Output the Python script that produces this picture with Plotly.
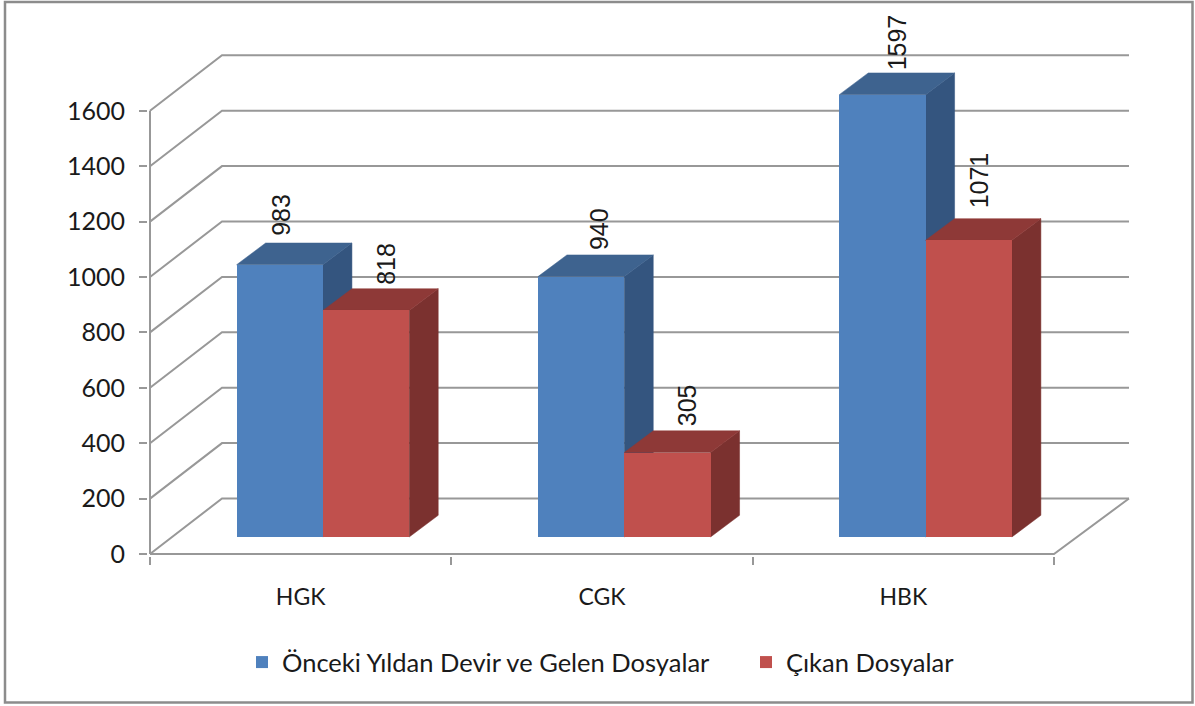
import plotly.graph_objects as go

categories = ["HGK", "CGK", "HBK"]
series_names = ["Önceki Yıldan Devir ve Gelen Dosyalar", "Çıkan Dosyalar"]
gelen_values = [983, 940, 1597]
cikan_values = [818, 305, 1071]
y_ticks = [0, 200, 400, 600, 800, 1000, 1200, 1400, 1600]

# label nudges in px (hand placed in the original)
gelen_label_shift = [(2, 5), (19, 3), (15, 1)]
cikan_label_shift = [(21, 2), (20, 3), (11, 8)]

W, H = 1195, 706
L, R, T, B = 148, 65, 40, 150
UX = 301.33              # px per category
UY = 0.277               # px per value unit
PAD = 2
GAP = 0.2875             # left gap inside a category, category units
BAR_W = 0.2864
BASE = 17 / UY           # bars sit forward-floor offset
DX, DY = 29 / UX, 21.7 / UY          # bar depth
WX, WY = 72 / UX, 55.5 / UY          # wall depth
END = 979 / UX
GRID = "#989898"
TEXT = "#1a1a1a"
FONT = "Lato"

series = [
    (series_names[0], gelen_values, 0, "#4F81BD", "#34557F", "#3E638F", gelen_label_shift, "legend"),
    (series_names[1], cikan_values, 1, "#C0504D", "#7B312F", "#8E3937", cikan_label_shift, "legend2"),
]

fig = go.Figure()

# wall and floor lines
gx, gy = [], []
for v in y_ticks:
    gx += [0, WX, END, None]
    gy += [v, v + WY, v + WY, None]
fig.add_trace(go.Scatter(x=gx, y=gy, mode="lines", line=dict(color=GRID, width=2),
                         showlegend=False, hoverinfo="skip", zorder=-2))
fig.add_trace(go.Scatter(x=[0, 0, None, 0, 3, END], y=[y_ticks[-1], 0, None, 0, 0, WY],
                         mode="lines", line=dict(color=GRID, width=2),
                         showlegend=False, hoverinfo="skip", zorder=-2))

annotations = []
for name, vals, idx, front, side, top, shifts, legend_id in series:
    lefts = [i + GAP + idx * BAR_W for i in range(len(categories))]
    sx, sy, tx, ty = [], [], [], []
    for x0, v in zip(lefts, vals):
        x1 = x0 + BAR_W
        h = BASE + v
        sx += [x1, x1 + DX, x1 + DX, x1, x1, None]
        sy += [BASE, BASE + DY, h + DY, h, BASE, None]
        tx += [x0, x0 + DX, x1 + DX, x1, x0, None]
        ty += [h, h + DY, h + DY, h, h, None]
    z = idx * 2
    fig.add_trace(go.Scatter(x=sx, y=sy, mode="lines", fill="toself", fillcolor=side,
                             line=dict(color=side, width=0.5), showlegend=False,
                             hoverinfo="skip", zorder=z))
    fig.add_trace(go.Scatter(x=tx, y=ty, mode="lines", fill="toself", fillcolor=top,
                             line=dict(color=top, width=0.5), showlegend=False,
                             hoverinfo="skip", zorder=z))
    fig.add_trace(go.Bar(x=[x + BAR_W / 2 for x in lefts], y=vals, base=BASE, width=BAR_W,
                         name=name, legend=legend_id,
                         marker=dict(color=front, line=dict(width=0)), zorder=z + 1))
    for x0, v, (sx_px, sy_px) in zip(lefts, vals, shifts):
        annotations.append(dict(x=x0 + BAR_W / 2, y=BASE + DY + v, text=str(v), textangle=-90,
                                showarrow=False, xanchor="center", yanchor="bottom",
                                xshift=sx_px - 1, yshift=sy_px,
                                font=dict(family="Liberation Sans", size=25, color=TEXT)))

pw, ph = W - L - R, H - T - B

def px(x):
    return (x - L) / pw

def py(y):
    return (H - B - y) / ph

legend_common = dict(orientation="h", yanchor="top", y=py(639), xanchor="left",
                     font=dict(family=FONT, size=25.5, color=TEXT), itemclick=False,
                     itemdoubleclick=False, bgcolor="rgba(0,0,0,0)")

fig.update_layout(
    width=W, height=H, autosize=False,
    margin=dict(l=L, r=R, t=T, b=B, autoexpand=False),
    paper_bgcolor="white", plot_bgcolor="white",
    barmode="overlay", bargap=0,
    xaxis=dict(range=[-PAD / UX, (pw - PAD) / UX], tickmode="array",
               tickvals=[0.5, 1.5, 2.5], ticktext=categories, ticks="", ticklabelstandoff=25,
               showgrid=False, zeroline=False, showline=False,
               tickfont=dict(family=FONT, size=23, color=TEXT),
               minor=dict(ticks="outside", tick0=0, dtick=1, ticklen=8, tickwidth=2,
                          tickcolor=GRID, showgrid=False)),
    yaxis=dict(range=[-PAD / UY, (ph - PAD) / UY], tickmode="array", tickvals=y_ticks,
               ticks="outside", ticklen=8, tickwidth=2, tickcolor=GRID, ticklabelstandoff=9,
               showgrid=False, zeroline=False, showline=False,
               tickfont=dict(family=FONT, size=25, color=TEXT)),
    legend=dict(x=px(242), **legend_common),
    legend2=dict(x=px(746), **legend_common),
    annotations=annotations,
    shapes=[dict(type="rect", xref="paper", yref="paper",
                 x0=px(5), x1=px(1192.5), y0=py(702.5), y1=py(2),
                 line=dict(color="#8c8c8c", width=2.5), fillcolor="rgba(0,0,0,0)")],
)

fig.write_html("out.html", config={"displayModeBar": False},
               post_script="document.body.style.margin='0';document.body.style.overflow='hidden';")
